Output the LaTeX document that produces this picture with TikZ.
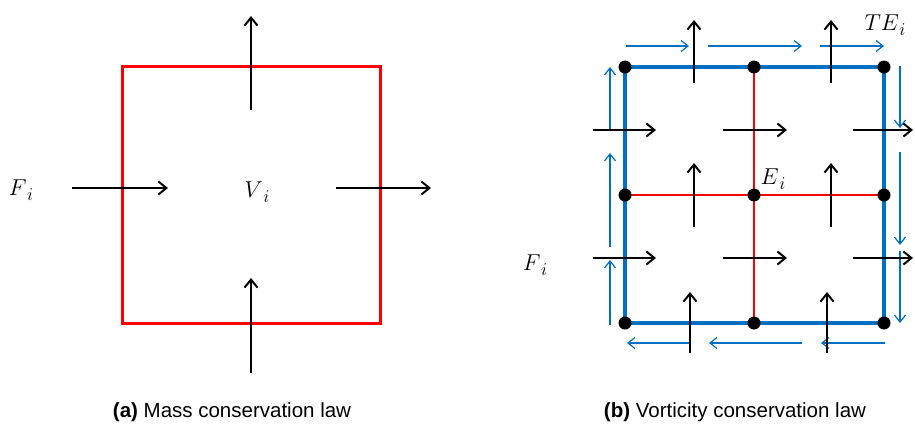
\RequirePackage{fix-cm}
\documentclass[tikz,border=0pt]{standalone}
\usepackage{fontspec}
\setsansfont{Liberation Sans}
\usetikzlibrary{arrows.meta}
\definecolor{ofblue}{RGB}{0,112,192}
\newcommand{\varsub}[2]{$#1$\kern0.5pt\raisebox{-5pt}{\fontsize{18}{20}\selectfont$#2$}}
\begin{document}
\begin{tikzpicture}[x=1pt,y=-1pt,
  blk/.style={black,line width=2pt,-{Straight Barb[length=8pt,width=13pt]}},
  blu/.style={ofblue,line width=1.2pt,-{Straight Barb[length=7pt,width=11pt]}},
  dot/.style={circle,fill=black,inner sep=0pt,minimum size=13pt},
  lab/.style={inner sep=0pt,font=\fontsize{23}{27}\selectfont},
  capt/.style={inner sep=0pt,font=\sffamily\fontsize{20.5}{24}\selectfont}]
\useasboundingbox (0,0) rectangle (915,429);
% ---------- (a) ----------
\node[draw=red,line width=3pt,minimum width=258pt,minimum height=257pt,inner sep=0pt] (box) at (251,194.5) {};
\coordinate (at0) at (251,110); \coordinate (at1) at (251,16);
\coordinate (ab0) at (251,373); \coordinate (ab1) at (251,278);
\coordinate (al0) at (72,188);  \coordinate (al1) at (168,188);
\coordinate (ar0) at (336,188); \coordinate (ar1) at (431,188);
\draw[blk] (at0) -- (at1);
\draw[blk] (ab0) -- (ab1);
\draw[blk] (al0) -- (al1);
\draw[blk] (ar0) -- (ar1);
\node[lab] (Fa) at (21,190) {\varsub{F}{i}};
\node[lab] (Va) at (257,192) {\varsub{V}{i}};
\node[capt] (capa) at (232,412) {\textbf{(a)} Mass conservation law};
% ---------- (b) ----------
\foreach \c/\x in {L/625,M/754,R/884}{
  \foreach \r/\y in {T/67,C/195,B/323}{
    \coordinate (\c\r) at (\x,\y);
  }
}
\draw[red,line width=1.6pt] (MT) -- (MB);
\draw[red,line width=1.6pt] (LC) -- (RC);
\draw[ofblue,line width=4pt] (LT) rectangle (RB);
% blue thin arrows: top
\draw[blu] (626,46) -- (689,46);
\draw[blu] (708,46) -- (802,46);
\draw[blu] (820,46) -- (884,46);
% right
\draw[blu] (900,66) -- (900,128);
\draw[blu] (900,152) -- (900,245);
\draw[blu] (900,251) -- (900,323);
% bottom
\draw[blu] (885,343) -- (821,343);
\draw[blu] (802,343) -- (709,343);
\draw[blu] (690,343) -- (627,343);
% left
\draw[blu] (610,325) -- (610,260);
\draw[blu] (610,247) -- (610,153);
\draw[blu] (610,130) -- (610,67);
% black arrows
\draw[blk] (694,83) -- (694,20);
\draw[blk] (831,83) -- (831,20);
\draw[blk] (694,227) -- (694,163);
\draw[blk] (831,227) -- (831,163);
\draw[blk] (690,353) -- (690,292);
\draw[blk] (827,353) -- (827,292);
\draw[blk] (593,130) -- (656,130);
\draw[blk] (723,130) -- (787,130);
\draw[blk] (853,130) -- (913,130);
\draw[blk] (593,258) -- (656,258);
\draw[blk] (723,258) -- (787,258);
\draw[blk] (853,258) -- (913,258);
% dots
\foreach \p in {LT,MT,RT,LC,MC,RC,LB,MB,RB}{
  \node[dot] (d\p) at (\p) {};
}
\node[lab] (TE) at (885,25) {\varsub{TE}{i}};
\node[lab] (Ei) at (773,179) {\varsub{E}{i}};
\node[lab] (Fb) at (535,265) {\varsub{F}{i}};
\node[capt] (capb) at (735,412) {\textbf{(b)} Vorticity conservation law};
\end{tikzpicture}
\end{document}
